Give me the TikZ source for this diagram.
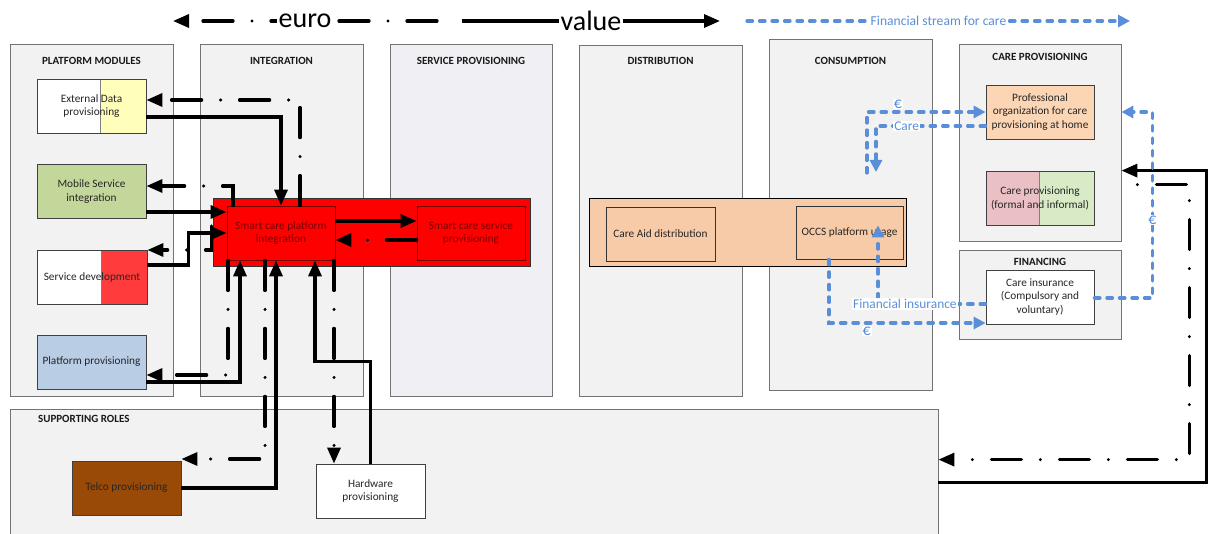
\documentclass[tikz,border=0pt]{standalone}
\usepackage{fontspec}
\setmainfont{Carlito}
\usetikzlibrary{arrows.meta,calc}

\definecolor{lanegray}{HTML}{F2F2F2}
\definecolor{lanelilac}{HTML}{F0F0F4}
\definecolor{datayellow}{HTML}{FFFFBB}
\definecolor{mobgreen}{HTML}{C4D79B}
\definecolor{devred}{HTML}{FF3B3B}
\definecolor{provblue}{HTML}{B9CDE5}
\definecolor{telcobrown}{HTML}{994A07}
\definecolor{peach}{HTML}{F8CBA8}
\definecolor{homepeach}{HTML}{FCD5B4}
\definecolor{carepink}{HTML}{EBC0C4}
\definecolor{caregreen}{HTML}{D9EBC6}
\definecolor{finblue}{HTML}{5B8ED9}
\definecolor{darkred}{HTML}{7A0000}

\tikzset{
	lane/.style={draw=black!55, fill=lanegray, line width=0.8pt},
	lanetitle/.style={font=\fontsize{11}{13}\selectfont\bfseries, text=black!90},
	modbox/.style={draw=black!75, line width=0.8pt, minimum width=109pt, minimum height=54pt, align=center, inner sep=1pt, text=black!85, font=\fontsize{11.3}{13.8}\selectfont},
	splitfill/.style 2 args={path picture={
		\fill[#1] ([xshift=#2]path picture bounding box.south west) rectangle (path picture bounding box.north east);
		\draw[black!50, line width=0.6pt] ([xshift=#2]path picture bounding box.south west) -- ([xshift=#2]path picture bounding box.north west);}},
	valueflow/.style={line width=3.3pt, -{Triangle[length=16pt,width=13pt]}},
	euroflow/.style={valueflow, line cap=round, dash pattern=on 30pt off 19pt on 0pt off 19pt},
	finflow/.style={draw=finblue, line width=3.2pt, line cap=round, dash pattern=on 5.5pt off 7pt, -{Triangle[length=12pt,width=12pt]}},
	finlabel/.style={text=finblue, fill=white, font=\fontsize{13.4}{15}\selectfont, inner sep=1pt},
	eurolabel/.style={finlabel, font=\fontsize{16}{17}\selectfont},
}

\begin{document}
\begin{tikzpicture}[x=1pt, y=-1pt]
			%%%%% START %%%%%
			\useasboundingbox (0,0) rectangle (1209,534);
			
			% legend
			\coordinate (eurostart) at (437,21);
			\coordinate (euroend) at (173,21);
			\coordinate (valuestart) at (462,21);
			\coordinate (valueend) at (720,21);
			\coordinate (finstart) at (747,21);
			\coordinate (finend) at (1130,21);
			\draw[euroflow] (eurostart) -- (euroend) node[midway, fill=white, inner sep=2pt, font=\fontsize{28}{30}\selectfont] (legeuro) {euro};
			\draw[valueflow] (valuestart) -- (valueend) node[midway, fill=white, inner sep=2pt, font=\fontsize{28}{30}\selectfont] (legvalue) {value};
			\draw[finflow] (finstart) -- (finend) node[pos=0.5, finlabel, font=\fontsize{13.6}{15}\selectfont] (legfin) {Financial stream for care};
			
			% lanes
			\node[lane, minimum width=163pt, minimum height=352pt] (lmod) at (91.5,220) {};
			\node[lane, minimum width=163pt, minimum height=352pt] (lint) at (281.5,220) {};
			\node[lane, fill=lanelilac, minimum width=162pt, minimum height=352pt] (lsrv) at (471,220) {};
			\node[lane, minimum width=163pt, minimum height=351pt] (ldist) at (660.5,220.5) {};
			\node[lane, minimum width=163pt, minimum height=351pt] (lcons) at (850.5,214.5) {};
			\node[lane, minimum width=162pt, minimum height=197pt] (lcare) at (1040,142.5) {};
			\node[lane, minimum width=162pt, minimum height=89pt] (lfin) at (1040,294.5) {};
			\node[lane, minimum width=928pt, minimum height=126pt] (lsup) at (474,472) {};
			
			\node[lanetitle] (tmod) at ([yshift=-17pt]lmod.north) {PLATFORM MODULES};
			\node[lanetitle] (tint) at ([yshift=-17pt]lint.north) {INTEGRATION};
			\node[lanetitle] (tsrv) at ([yshift=-17pt]lsrv.north) {SERVICE PROVISIONING};
			\node[lanetitle] (tdist) at ([yshift=-16pt]ldist.north) {DISTRIBUTION};
			\node[lanetitle] (tcons) at ([yshift=-22pt]lcons.north) {CONSUMPTION};
			\node[lanetitle] (tcare) at ([yshift=-13pt]lcare.north) {CARE PROVISIONING};
			\node[lanetitle] (tfin) at ([yshift=-12pt]lfin.north) {FINANCING};
			\node[lanetitle, anchor=west] (tsup) at ([xshift=25pt,yshift=-10pt]lsup.north west) {SUPPORTING ROLES};
			
			% roles
			\node[modbox, fill=white, splitfill={datayellow}{63pt}] (extdata) at (91.5,106) {External Data\\provisioning};
			\node[modbox, fill=mobgreen] (mobile) at (91.5,191.5) {Mobile Service\\integration};
			\node[modbox, fill=white, minimum width=110pt, splitfill={devred}{64pt}] (servdev) at (92,277) {Service development};
			\node[modbox, fill=provblue] (platprov) at (91.5,362) {Platform provisioning};
			
			\node[draw=black!80, fill=red, line width=0.8pt, minimum width=317pt, minimum height=68pt] (redzone) at (371.5,232) {};
			\node[modbox, draw=darkred, fill=red, text=darkred, minimum width=108pt] (scpi) at (281,233) {Smart care platform\\integration};
			\node[modbox, draw=darkred, fill=red, text=darkred, minimum width=108pt] (scsp) at (471,233) {Smart care service\\provisioning};
			
			\node[draw=black, fill=peach, line width=0.8pt, minimum width=317pt, minimum height=68pt] (usezone) at (747.5,232) {};
			\node[modbox, draw=black!80, fill=peach] (caid) at (660.5,234) {Care Aid distribution};
			\node[modbox, draw=black!80, fill=peach, minimum width=107pt, minimum height=53pt] (occs) at (849.5,232.5) {OCCS platform usage};
			
			\node[modbox, fill=homepeach, minimum width=108pt] (profo) at (1040,112) {Professional\\organization for care\\provisioning at home};
			\node[modbox, fill=carepink, minimum width=108pt, splitfill={caregreen}{53pt}] (carep) at (1040,198) {Care provisioning\\(formal and informal)};
			\node[modbox, fill=white, minimum width=108pt] (careins) at (1040,297) {Care insurance\\(Compulsory and\\voluntary)};
			
			\node[modbox, fill=telcobrown] (telco) at (126.5,488) {Telco provisioning};
			\node[modbox, fill=white] (hardw) at (370.5,491) {Hardware\\provisioning};
			
			% value and euro streams
			\coordinate (m1) at ([yshift=-20.5pt]mobile.east);
			\coordinate (h1) at ([xshift=53pt]scpi.south);
			\coordinate (c1) at (lcare.east |- carep.north);
			
			\draw[valueflow] ([yshift=-11pt]extdata.east) -| (scpi.north);
			\draw[euroflow] ([xshift=19pt]scpi.north) |- ([yshift=6pt]extdata.east);
			\draw[valueflow] (m1) -- (m1 -| scpi.west);
			\draw[euroflow] ([xshift=-48pt]scpi.north) |- ([yshift=5.5pt]mobile.east);
			\draw[valueflow] ([yshift=12pt]servdev.east) -- ++(41,0) |- (scpi.west);
			\draw[euroflow] ([xshift=-15pt,yshift=7pt]scpi.west) |- ([yshift=27pt]servdev.east);
			\draw[valueflow] ([yshift=-20pt]platprov.east) -| ([xshift=-41pt]scpi.south);
			\draw[euroflow] ([xshift=-53pt]scpi.south) |- ([yshift=-13pt]platprov.east);
			\draw[valueflow] (telco.east) -| ([xshift=-5pt]scpi.south);
			\draw[euroflow] ([xshift=-16pt]scpi.south) |- ([yshift=29pt]telco.east);
			\draw[valueflow] (hardw.north) -- ++(0,-102) -| ([xshift=34pt]scpi.south);
			\draw[euroflow] (h1) -- (h1 |- hardw.north);
			\draw[valueflow] ([yshift=12pt]scpi.east) -- ([yshift=12pt]scsp.west);
			\draw[euroflow] ([yshift=-7pt]scsp.west) -- ([yshift=-7pt]scpi.east);
			
			\draw[valueflow] ([yshift=-74pt]lsup.north east) -- ++(268,0) |- (c1);
			\draw[euroflow, dash phase=33pt] ([yshift=-14pt]c1) -- ++(68,0) |- ([yshift=-51pt]lsup.north east);
			
			% financial stream for care
			\coordinate (eurofree) at (867,173);
			\coordinate (careend) at (876,172);
			\draw[finflow] (eurofree) |- (profo.west) node[pos=0.63, eurolabel, above=1pt] (eur1) {€};
			\draw[finflow] ([yshift=-14pt]profo.west) -| (careend) node[pos=0.36, finlabel] (lblcare) {Care};
			\draw[finflow] ([yshift=-7pt]careins.west) -| ($(occs.south)+(28.5,-34)$) node[pos=0.375, finlabel] (lblins) {Financial insurance};
			\draw[finflow] ($(occs.south)+(-20.5,0)$) |- ($(careins.west)+(0,26)$) node[pos=0.62, eurolabel, below=1pt] (eur2) {€};
			\draw[finflow] ([yshift=-1pt]careins.east) -- ++(58,0) |- node[pos=0.21, eurolabel] (eur3) {€} (lcare.east |- profo.west);
			
			%%%%% END %%%%%
\end{tikzpicture}
\end{document}
